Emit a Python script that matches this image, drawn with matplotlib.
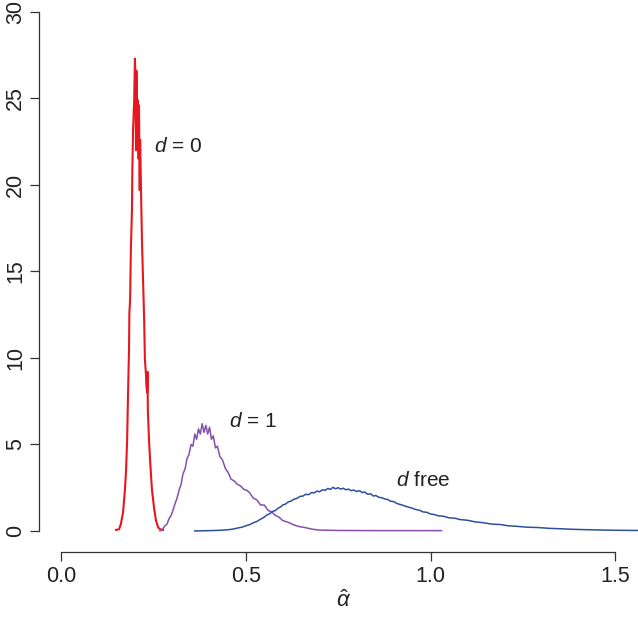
import matplotlib
matplotlib.use('Agg')
import matplotlib.pyplot as plt

# -------------------- Data ----------------------------------------------- #
# d = 0
red_x = [0.149, 0.157, 0.162, 0.168, 0.173, 0.176, 0.179, 0.181, 0.184, 0.185,
         0.187, 0.189, 0.192, 0.193, 0.195, 0.198, 0.200, 0.201, 0.203, 0.204,
         0.206, 0.208, 0.210, 0.211, 0.213, 0.214, 0.217, 0.219, 0.222, 0.225,
         0.227, 0.230, 0.231, 0.233, 0.234, 0.235, 0.238, 0.241, 0.246, 0.252,
         0.257, 0.263, 0.268, 0.276]
red_y = [0.06, 0.1, 0.4, 1.1, 2.4, 3.5, 5.3, 7.6, 10.5, 12.6,
         13.4, 16.2, 18.6, 20.9, 23.2, 24.9, 27.3, 26.4, 22.0, 26.6,
         24.0, 24.9, 21.5, 24.6, 19.7, 22.6, 19.1, 16.8, 14.5, 12.2,
         9.9, 9.0, 8.4, 8.0, 9.2, 7.0, 5.3, 4.1, 2.4, 1.3,
         0.6, 0.2, 0.1, 0.06]

# d = 1
purple_x = [0.268, 0.275, 0.281, 0.287, 0.292, 0.298, 0.303, 0.309, 0.314, 0.320,
            0.325, 0.330, 0.336, 0.341, 0.346, 0.352, 0.357, 0.362, 0.367, 0.372,
            0.377, 0.382, 0.387, 0.392, 0.397, 0.402, 0.407, 0.412, 0.418, 0.423,
            0.430, 0.437, 0.445, 0.452, 0.460, 0.468, 0.477, 0.486, 0.495, 0.503,
            0.511, 0.520, 0.530, 0.540, 0.550, 0.560, 0.570, 0.580, 0.590, 0.600,
            0.615, 0.630, 0.645, 0.660, 0.680, 0.700, 0.750, 0.850, 1.030]
purple_y = [0.0, 0.1, 0.3, 0.4, 0.7, 0.9, 1.2, 1.6, 1.9, 2.4,
            2.7, 3.3, 3.6, 4.2, 4.4, 5.0, 4.9, 5.6, 5.3, 5.9,
            5.6, 6.2, 5.7, 6.1, 5.6, 6.0, 5.3, 5.5, 4.8, 4.9,
            4.3, 4.1, 3.6, 3.4, 3.0, 2.9, 2.7, 2.6, 2.4, 2.35,
            2.2, 1.9, 1.8, 1.5, 1.5, 1.2, 1.1, 0.9, 0.8, 0.6,
            0.5, 0.35, 0.25, 0.2, 0.1, 0.05, 0.03, 0.02, 0.02]

# d free
blue_x = [0.362, 0.38, 0.40, 0.42, 0.44, 0.46, 0.47, 0.48, 0.49, 0.50,
          0.51, 0.52, 0.53, 0.54, 0.55, 0.557, 0.565, 0.572, 0.58, 0.588,
          0.595, 0.60, 0.607, 0.615, 0.622, 0.63, 0.638, 0.647, 0.655, 0.662,
          0.67, 0.678, 0.685, 0.692, 0.70, 0.708, 0.715, 0.722, 0.729, 0.736,
          0.743, 0.75, 0.757, 0.764, 0.771, 0.778, 0.785, 0.792, 0.80, 0.808,
          0.815, 0.822, 0.83, 0.838, 0.845, 0.852, 0.86, 0.868, 0.876, 0.884,
          0.892, 0.90, 0.91, 0.92, 0.93, 0.94, 0.95, 0.96, 0.97, 0.98,
          0.99, 1.00, 1.01, 1.02, 1.035, 1.05, 1.065, 1.08, 1.10, 1.12,
          1.142, 1.165, 1.19, 1.21, 1.233, 1.26, 1.29, 1.323, 1.35, 1.38,
          1.413, 1.45, 1.50, 1.56]
blue_y = [0.00, 0.01, 0.02, 0.03, 0.05, 0.09, 0.13, 0.18, 0.22, 0.30,
          0.36, 0.47, 0.55, 0.68, 0.80, 0.92, 1.00, 1.12, 1.18, 1.32,
          1.40, 1.50, 1.55, 1.68, 1.72, 1.83, 1.88, 2.00, 2.02, 2.12,
          2.10, 2.22, 2.20, 2.30, 2.27, 2.38, 2.35, 2.46, 2.40, 2.52,
          2.44, 2.50, 2.42, 2.47, 2.38, 2.42, 2.33, 2.37, 2.28, 2.33,
          2.22, 2.25, 2.12, 2.15, 2.02, 2.05, 1.95, 1.92, 1.85, 1.82,
          1.72, 1.70, 1.58, 1.52, 1.45, 1.38, 1.32, 1.24, 1.20, 1.10,
          1.08, 0.98, 0.95, 0.88, 0.85, 0.76, 0.74, 0.66, 0.62, 0.53,
          0.48, 0.40, 0.37, 0.30, 0.27, 0.22, 0.20, 0.15, 0.13, 0.10,
          0.08, 0.06, 0.04, 0.03]

x_ticks = [0.0, 0.5, 1.0, 1.5]
x_tick_labels = ['0.0', '0.5', '1.0', '1.5']
y_ticks = [0, 5, 10, 15, 20, 25, 30]

# -------------------- Style ----------------------- #
plt.rcParams['font.family'] = ['Liberation Sans', 'DejaVu Sans']
plt.rcParams['mathtext.fontset'] = 'custom'
plt.rcParams['mathtext.rm'] = 'Liberation Sans'
plt.rcParams['mathtext.it'] = 'Liberation Sans:italic'

fig = plt.figure(figsize=(6.38, 6.21), dpi=100)
ax = fig.add_axes([0.0784, 0.1224, 0.9216, 0.8696])

ax.plot(red_x, red_y, color='#e8161e', lw=1.5)
ax.plot(purple_x, purple_y, color='#8450ad', lw=1.1)
ax.plot(blue_x, blue_y, color='#2e4f9e', lw=1.1)

ax.text(0.317, 22.2, '$d$ = 0', fontsize=15, ha='center', va='center', color='#222222')
ax.text(0.520, 6.3, '$d$ = 1', fontsize=15, ha='center', va='center', color='#222222')
ax.text(0.980, 2.9, '$d$ free', fontsize=15, ha='center', va='center', color='#222222')

ax.set_xlim(-0.0298, 1.5616)
ax.set_ylim(-0.81, 30.40)

for side in ['top', 'right']:
    ax.spines[side].set_visible(False)
ax.spines['left'].set_position(('outward', 7.9))
ax.spines['bottom'].set_position(('outward', 5.0))
ax.spines['left'].set_bounds(0, 30)
ax.spines['bottom'].set_bounds(0, 1.5)
for side in ['left', 'bottom']:
    ax.spines[side].set_linewidth(0.9)
    ax.spines[side].set_color('#333333')

ax.set_xticks(x_ticks)
ax.set_xticklabels(x_tick_labels)
ax.set_yticks(y_ticks)
ax.tick_params(length=6.8, width=0.9, color='#333333', labelsize=15.5,
               labelcolor='#222222')
ax.tick_params(axis='x', pad=3.5)
ax.tick_params(axis='y', pad=2.5, labelrotation=90)
for lbl in ax.get_yticklabels():
    lbl.set_va('center')

ax.set_xlabel(r'$\hat{\alpha}$', fontsize=16, labelpad=2, color='#222222')

fig.savefig('out.png', dpi=100)
